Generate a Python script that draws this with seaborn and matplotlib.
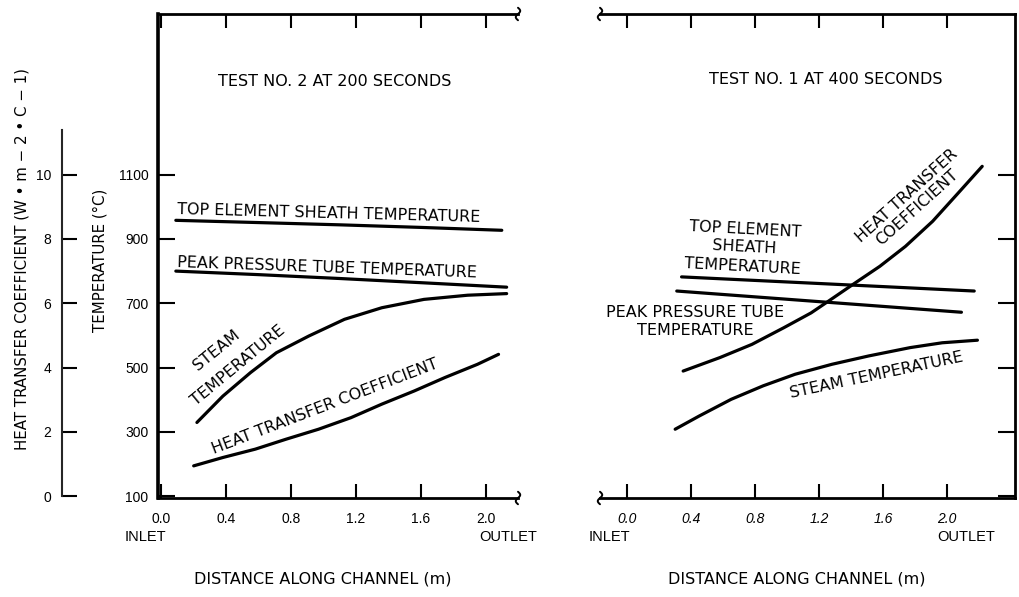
import numpy as np
import pandas as pd
import matplotlib
matplotlib.use("Agg")
import matplotlib.pyplot as plt
import matplotlib.transforms as mtransforms
import seaborn as sns

# ---- Test No. 2 at 200 seconds ----
t2_sheath_x = [0.09, 0.60, 1.10, 1.60, 2.10]
t2_sheath_T = [958, 951, 944, 936, 927]
t2_tube_x = [0.09, 0.60, 1.10, 1.60, 2.13]
t2_tube_T = [800, 789, 777, 764, 750]
t2_steam_x = [0.22, 0.38, 0.55, 0.71, 0.91, 1.13, 1.36, 1.62, 1.89, 2.13]
t2_steam_T = [329, 411, 484, 546, 598, 650, 686, 712, 725, 730]
t2_htc_x = [0.20, 0.38, 0.58, 0.77, 0.97, 1.17, 1.36, 1.56, 1.75, 1.95, 2.08]
t2_htc = [0.94, 1.20, 1.46, 1.77, 2.08, 2.44, 2.86, 3.27, 3.69, 4.10, 4.41]

# ---- Test No. 1 at 400 seconds ----
t1_sheath_x = [0.34, 1.26, 2.17]
t1_sheath_T = [782, 760, 738]
t1_tube_x = [0.31, 1.20, 2.09]
t1_tube_T = [738, 705, 672]
t1_steam_x = [0.30, 0.45, 0.65, 0.85, 1.05, 1.28, 1.51, 1.77, 1.97, 2.19]
t1_steam_T = [308, 349, 401, 443, 479, 510, 536, 562, 577, 585]
t1_htc_x = [0.35, 0.58, 0.78, 0.98, 1.15, 1.26, 1.41, 1.58, 1.74, 1.91, 2.07, 2.22]
t1_htc = [3.89, 4.31, 4.72, 5.24, 5.70, 6.07, 6.58, 7.15, 7.77, 8.55, 9.43, 10.26]

x_ticks = [0.0, 0.4, 0.8, 1.2, 1.6, 2.0]
x_ticklabels = ["0.0", "0.4", "0.8", "1.2", "1.6", "2.0"]
temp_ticks = [100, 300, 500, 700, 900, 1100]
htc_ticks = [0, 2, 4, 6, 8, 10]

T_LIM = (94, 1600)
# heat transfer coefficient scale: 0 sits at 100 C, 1 unit per 100 C
HTC_LIM = ((T_LIM[0] - 100) / 100, (T_LIM[1] - 100) / 100)

sns.set_theme(style="ticks")
plt.rcParams["font.family"] = ["Liberation Sans", "DejaVu Sans"]
plt.rcParams["text.color"] = "black"

FS = 10          # tick labels
LFS = 11.5       # annotations and titles
LABEL_FONT = ["DejaVu Sans"]
LW = 2.3

W, H = 1020, 597
fig = plt.figure(figsize=(W / 100, H / 100), dpi=100)
fig.patch.set_facecolor("white")


def fx(px):
    return px / W


def fy(py):
    return 1 - py / H


bottom, top = 498, 14
axL = fig.add_axes([fx(158), fy(bottom), (518 - 158) / W, (bottom - top) / H])
axR = fig.add_axes([fx(600), fy(bottom), (1015 - 600) / W, (bottom - top) / H])
axH = fig.add_axes([fx(62), fy(bottom), 0.0005, (bottom - top) / H])

# twin axes carrying the heat transfer coefficient curves
hL = axL.twinx()
hR = axR.twinx()
for h in (hL, hR):
    h.set_ylim(*HTC_LIM)
    h.axis("off")

for ax in (axL, axR):
    ax.set_facecolor("white")
    ax.set_ylim(*T_LIM)
    ax.set_xticks(x_ticks)
    ax.set_yticks(temp_ticks)
    ax.grid(False)
    for s in ax.spines.values():
        s.set_linewidth(2.0)
        s.set_color("black")

axL.set_xlim(-0.02, 2.20)
axR.set_xlim(-0.17, 2.425)

axL.spines["right"].set_visible(False)
axR.spines["left"].set_visible(False)
axL.spines["left"].set_linewidth(2.6)

axL.tick_params(axis="x", which="both", direction="in", length=10, width=1.5,
                top=True, bottom=True, labelsize=FS, pad=10, colors="black")
axL.tick_params(axis="y", direction="in", length=12, width=1.5, left=True,
                right=False, labelleft=True, labelright=False,
                labelsize=FS, pad=7, colors="black")
axL.set_xticklabels(x_ticklabels)

axR.tick_params(axis="x", which="both", direction="in", length=10, width=1.5,
                top=True, bottom=True, labelsize=FS, pad=10, colors="black")
axR.tick_params(axis="y", direction="in", length=12, width=1.5, left=False,
                right=True, labelleft=False, labelright=False, colors="black")
axR.set_xticklabels(x_ticklabels, style="italic")

# separate heat transfer coefficient scale
axH.set_ylim(*HTC_LIM)
axH.patch.set_visible(False)
for k in ("top", "right", "bottom"):
    axH.spines[k].set_visible(False)
axH.spines["left"].set_linewidth(1.5)
axH.spines["left"].set_bounds(0, 11.4)
axH.set_xticks([])
axH.set_yticks(htc_ticks)
axH.tick_params(axis="y", direction="in", length=11, width=1.5,
                labelsize=FS, pad=8, colors="black")


def draw(ax, x, y):
    df = pd.DataFrame({"x": x, "y": y})
    sns.lineplot(data=df, x="x", y="y", ax=ax, color="black", lw=LW,
                 estimator=None, sort=False)
    ax.set_xlabel("")
    ax.set_ylabel("")


draw(axL, t2_sheath_x, t2_sheath_T)
draw(axL, t2_tube_x, t2_tube_T)
draw(axL, t2_steam_x, t2_steam_T)
draw(hL, t2_htc_x, t2_htc)

draw(axR, t1_sheath_x, t1_sheath_T)
draw(axR, t1_tube_x, t1_tube_T)
draw(axR, t1_steam_x, t1_steam_T)
draw(hR, t1_htc_x, t1_htc)


# axis break marks at the open ends of the horizontal axes
def break_mark(ax, xa, ya):
    t = np.linspace(-1, 1, 30)
    dx = 1.6 * np.sin(np.pi * t) / 72
    dy = 4.5 * t / 72
    trans = fig.dpi_scale_trans + mtransforms.ScaledTranslation(xa, ya, ax.transAxes)
    ax.plot(dx, dy, color="black", lw=1.4, transform=trans, clip_on=False)


break_mark(axL, 1.0, 1.0)
break_mark(axL, 1.0, 0.0)
break_mark(axR, 0.0, 1.0)
break_mark(axR, 0.0, 0.0)


def label(ax, x, y, s, **kw):
    kw.setdefault("ha", "center")
    kw.setdefault("va", "center")
    ax.text(x, y, s, fontsize=LFS, family=LABEL_FONT, rotation_mode="anchor", **kw)


# panel titles
label(axL, 1.07, 1389, "TEST NO. 2 AT 200 SECONDS")
label(axR, 1.24, 1395, "TEST NO. 1 AT 400 SECONDS")

# curve labels, Test No. 2
label(axL, 0.10, 991, "TOP ELEMENT SHEATH TEMPERATURE", ha="left", rotation=-1.5)
label(axL, 0.10, 827, "PEAK PRESSURE TUBE TEMPERATURE", ha="left", rotation=-2)
label(axL, 0.34, 554, "STEAM", rotation=39)
label(axL, 0.475, 506, "TEMPERATURE", rotation=39.5)
label(axL, 1.01, 380, "HEAT TRANSFER COEFFICIENT", rotation=21)

# curve labels, Test No. 1
label(axR, 0.73, 873, "TOP ELEMENT\nSHEATH\nTEMPERATURE", rotation=-3,
      linespacing=1.3, multialignment="center")
label(axR, 0.425, 643, "PEAK PRESSURE TUBE\nTEMPERATURE", linespacing=1.2,
      multialignment="center")
label(axR, 1.78, 1016, "HEAT TRANSFER\nCOEFFICIENT", rotation=42,
      linespacing=1.15, multialignment="center")
label(axR, 1.56, 477, "STEAM TEMPERATURE", rotation=12)


# inlet / outlet markers
def under(ax, x, off, s):
    ax.annotate(s, xy=(x, 0), xycoords=("data", "axes fraction"),
                xytext=(0, -off), textcoords="offset points",
                ha="center", va="center", fontsize=10.5)


under(axL, -0.10, 28, "INLET")
under(axL, 2.14, 28, "OUTLET")
under(axR, -0.11, 28, "INLET")
under(axR, 2.12, 28, "OUTLET")

fig.text(fx(323), fy(579), "DISTANCE ALONG CHANNEL (m)", ha="center",
         va="center", fontsize=LFS, family=LABEL_FONT)
fig.text(fx(797), fy(579), "DISTANCE ALONG CHANNEL (m)", ha="center",
         va="center", fontsize=LFS, family=LABEL_FONT)

fig.text(fx(100), fy(260), "TEMPERATURE (°C)", rotation=90, ha="center",
         va="center", fontsize=10.8, family=LABEL_FONT)
fig.text(fx(22), fy(259), "HEAT TRANSFER COEFFICIENT (W • m − 2 • C − 1)",
         rotation=90, ha="center", va="center", fontsize=10.8, family=LABEL_FONT)

fig.savefig("out.png", dpi=100, facecolor="white")
